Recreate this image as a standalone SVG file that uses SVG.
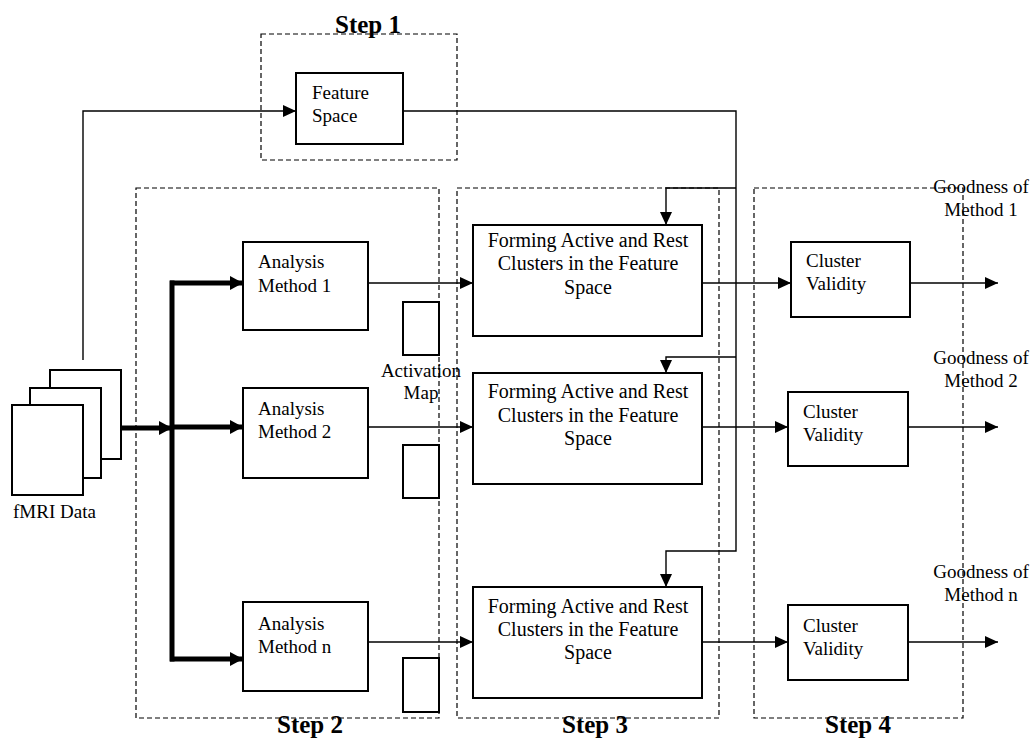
<svg xmlns="http://www.w3.org/2000/svg" width="1034" height="738" viewBox="0 0 1034 738">
<style>
.dash{fill:none;stroke:#000;stroke-width:1.2;stroke-dasharray:5,3}
.box{fill:#fff;stroke:#000;stroke-width:2}
.page{fill:#fff;stroke:#000;stroke-width:2}
.t{font-family:"Liberation Serif","Times New Roman",serif;font-size:19px;fill:#000}
.f{font-size:20px}
.c{text-anchor:middle}
.step{font-family:"Liberation Serif","Times New Roman",serif;font-size:25px;font-weight:bold;fill:#000;text-anchor:middle}
.ln{fill:none;stroke:#000;stroke-width:1.4}
.thick{fill:none;stroke:#000;stroke-width:5}
</style>
<defs>
<marker id="ah" markerUnits="userSpaceOnUse" markerWidth="14" markerHeight="12" refX="13" refY="6" orient="auto">
<path d="M0,0 L13,6 L0,12 Z" fill="#000"/>
</marker>
<marker id="ahT" markerUnits="userSpaceOnUse" markerWidth="14" markerHeight="14" refX="13" refY="7" orient="auto">
<path d="M0,0 L13,7 L0,14 Z" fill="#000"/>
</marker>
</defs>

<g id="step-frames">
<rect class="dash" x="261" y="34" width="196" height="126"/>
<rect class="dash" x="136" y="188" width="303" height="530"/>
<rect class="dash" x="457" y="188" width="262" height="530"/>
<rect class="dash" x="754" y="188" width="209" height="530"/>
<text class="step" x="368" y="33">Step 1</text>
<text class="step" x="310" y="733">Step 2</text>
<text class="step" x="595" y="733">Step 3</text>
<text class="step" x="858" y="733">Step 4</text>
</g>

<g id="connectors">
<path class="ln" d="M83,360 V111 H296" marker-end="url(#ah)"/>
<path class="ln" d="M403,111 H736 V551 H666 V587" marker-end="url(#ah)"/>
<path class="ln" d="M736,188 H666 V225" marker-end="url(#ah)"/>
<path class="ln" d="M736,357 H666 V373" marker-end="url(#ah)"/>
<path class="thick" d="M120,428 H172" marker-end="url(#ahT)"/>
<path class="thick" d="M172,280.5 V661.5"/>
<path class="thick" d="M170,283 H243" marker-end="url(#ahT)"/>
<path class="thick" d="M172,427 H243" marker-end="url(#ahT)"/>
<path class="thick" d="M170,659 H243" marker-end="url(#ahT)"/>
<path class="ln" d="M368,283 H473" marker-end="url(#ah)"/>
<path class="ln" d="M368,427 H473" marker-end="url(#ah)"/>
<path class="ln" d="M368,642 H473" marker-end="url(#ah)"/>
<path class="ln" d="M702,283 H791" marker-end="url(#ah)"/>
<path class="ln" d="M702,427 H788" marker-end="url(#ah)"/>
<path class="ln" d="M702,642 H788" marker-end="url(#ah)"/>
<path class="ln" d="M910,283 H998" marker-end="url(#ah)"/>
<path class="ln" d="M908,427 H998" marker-end="url(#ah)"/>
<path class="ln" d="M908,642 H998" marker-end="url(#ah)"/>
</g>

<g id="fmri-data">
<rect class="page" x="50" y="370" width="71" height="89"/>
<rect class="page" x="30" y="388" width="71" height="90"/>
<rect class="page" x="12" y="405" width="71" height="90"/>
<text class="t" x="13" y="518">fMRI Data</text>
</g>

<g id="feature-space">
<rect class="box" x="296" y="73" width="107" height="71"/>
<text class="t" x="312" y="99">Feature</text>
<text class="t" x="312" y="122">Space</text>
</g>

<g id="analysis-1">
<rect class="box" x="243" y="242" width="125" height="88"/>
<text class="t" x="258" y="268">Analysis</text>
<text class="t" x="258" y="292">Method 1</text>
</g>
<g id="analysis-2">
<rect class="box" x="243" y="388" width="125" height="90"/>
<text class="t" x="258" y="415">Analysis</text>
<text class="t" x="258" y="438">Method 2</text>
</g>
<g id="analysis-n">
<rect class="box" x="243" y="602" width="125" height="89"/>
<text class="t" x="258" y="630">Analysis</text>
<text class="t" x="258" y="653">Method n</text>
</g>

<g id="activation-maps">
<rect class="box" x="403" y="302" width="36" height="53"/>
<rect class="box" x="403" y="445" width="36" height="53"/>
<rect class="box" x="403" y="658" width="36" height="54"/>
<text class="t c" x="421" y="377">Activation</text>
<text class="t c" x="421" y="399">Map</text>
</g>

<g id="forming-1">
<rect class="box" x="473" y="225" width="229" height="111"/>
<text class="t f c" x="588" y="247">Forming Active and Rest</text>
<text class="t f c" x="588" y="270">Clusters in the Feature</text>
<text class="t f c" x="588" y="294">Space</text>
</g>
<g id="forming-2">
<rect class="box" x="473" y="373" width="229" height="111"/>
<text class="t f c" x="588" y="398">Forming Active and Rest</text>
<text class="t f c" x="588" y="422">Clusters in the Feature</text>
<text class="t f c" x="588" y="445">Space</text>
</g>
<g id="forming-n">
<rect class="box" x="473" y="587" width="229" height="111"/>
<text class="t f c" x="588" y="613">Forming Active and Rest</text>
<text class="t f c" x="588" y="636">Clusters in the Feature</text>
<text class="t f c" x="588" y="659">Space</text>
</g>

<g id="cluster-1">
<rect class="box" x="791" y="242" width="119" height="75"/>
<text class="t" x="806" y="267">Cluster</text>
<text class="t" x="806" y="290">Validity</text>
</g>
<g id="cluster-2">
<rect class="box" x="788" y="392" width="120" height="74"/>
<text class="t" x="803" y="418">Cluster</text>
<text class="t" x="803" y="441">Validity</text>
</g>
<g id="cluster-n">
<rect class="box" x="788" y="605" width="120" height="75"/>
<text class="t" x="803" y="632">Cluster</text>
<text class="t" x="803" y="655">Validity</text>
</g>

<g id="outputs">
<text class="t c" x="981" y="193">Goodness of</text>
<text class="t c" x="981" y="216">Method 1</text>
<text class="t c" x="981" y="364">Goodness of</text>
<text class="t c" x="981" y="387">Method 2</text>
<text class="t c" x="981" y="578">Goodness of</text>
<text class="t c" x="981" y="601">Method n</text>
</g>
</svg>
